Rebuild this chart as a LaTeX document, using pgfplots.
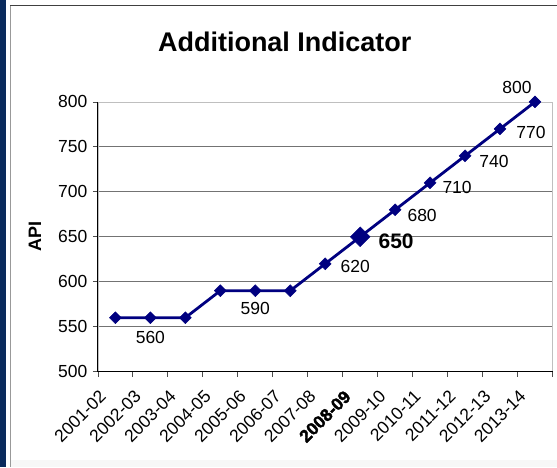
\documentclass[border=0pt]{standalone}
\usepackage{pgfplots}
\pgfplotsset{compat=1.18}
\usepackage{fontspec}
\setmainfont{Liberation Sans}
\newfontface\heavy{Liberation Sans Bold}[FakeBold=2]
\definecolor{navy}{HTML}{0A2A5C}
\definecolor{ser}{HTML}{000080}
\begin{document}
\begin{tikzpicture}[x=1pt,y=1pt]
\fill[white] (0,0) rectangle (557,467);
\fill[gray!6] (10.5,0) rectangle (557,7);
\fill[navy] (0,0) rectangle (6.5,467);
\draw[gray!80, line width=1pt] (10.5,0) -- (10.5,461);
\draw[black!75, line width=1pt] (10.5,461) -- (557,461);
\node[font=\fontsize{27}{30}\selectfont\bfseries] at (285,425) {Additional Indicator};
\node[rotate=90, font=\fontsize{18}{20}\selectfont\bfseries] at (35,230) {API};
\begin{axis}[at={(98pt,95pt)}, anchor=south west, scale only axis,
  width=455pt, height=270pt,
  xmin=-0.5, xmax=12.5, ymin=500, ymax=800,
  ytick={500,550,...,800},
  xtick={0,...,12},
  xticklabels={2001-02,2002-03,2003-04,2004-05,2005-06,2006-07,2007-08,{\heavy 2008-09},2009-10,2010-11,2011-12,2012-13,2013-14},
  minor xtick={-0.5,0.5,...,12.5},
  xtick pos=bottom, ytick pos=left,
  major x tick style={draw=none},
  minor x tick style={black!70, line width=0.8pt},
  y tick style={black!70, line width=0.8pt},
  tick align=outside,
  major tick length=5pt, minor tick length=5pt,
  ymajorgrids, grid style={black!55, line width=0.8pt},
  axis line style={gray!50, line width=0.8pt},
  /pgf/number format/assume math mode=true,
  tick label style={font=\fontsize{17.5}{19}\selectfont},
  xticklabel style={xshift=-17pt, yshift=-11pt, rotate=45, anchor=north east, inner sep=1pt},
  yticklabel style={xshift=-2pt},
  clip=false,
]
\addplot[ser, line width=2.8pt, mark=square*, mark size=4.2pt, mark options={rotate=45, fill=ser, draw=ser, line width=0.5pt}]
  coordinates {(0,560) (1,560) (2,560) (3,590) (4,590) (5,590) (6,620) (7,650) (8,680) (9,710) (10,740) (11,770) (12,800)};
\addplot[ser, only marks, mark=square*, mark size=7pt, mark options={rotate=45, fill=ser, draw=ser}]
  coordinates {(7,650)};
\draw[black, line width=0.9pt] (rel axis cs:0,1) -- (rel axis cs:0,0) -- (rel axis cs:1,0);
\begin{scope}[every node/.style={font=\fontsize{17.5}{19}\selectfont}]
\node at (axis cs:1,560) [yshift=-20pt] {560};
\node at (axis cs:4,590) [yshift=-18pt] {590};
\node at (axis cs:6,620) [xshift=30pt, yshift=-3pt] {620};
\node[font=\fontsize{21}{23}\selectfont\bfseries] at (axis cs:7,650) [xshift=36pt, yshift=-4pt] {650};
\node at (axis cs:8,680) [xshift=27pt, yshift=-6pt] {680};
\node at (axis cs:9,710) [xshift=27pt, yshift=-5pt] {710};
\node at (axis cs:10,740) [xshift=29pt, yshift=-6pt] {740};
\node at (axis cs:11,770) [xshift=31pt, yshift=-4pt] {770};
\node at (axis cs:12,800) [xshift=-18pt, yshift=14pt] {800};
\end{scope}
\end{axis}
\end{tikzpicture}
\end{document}
